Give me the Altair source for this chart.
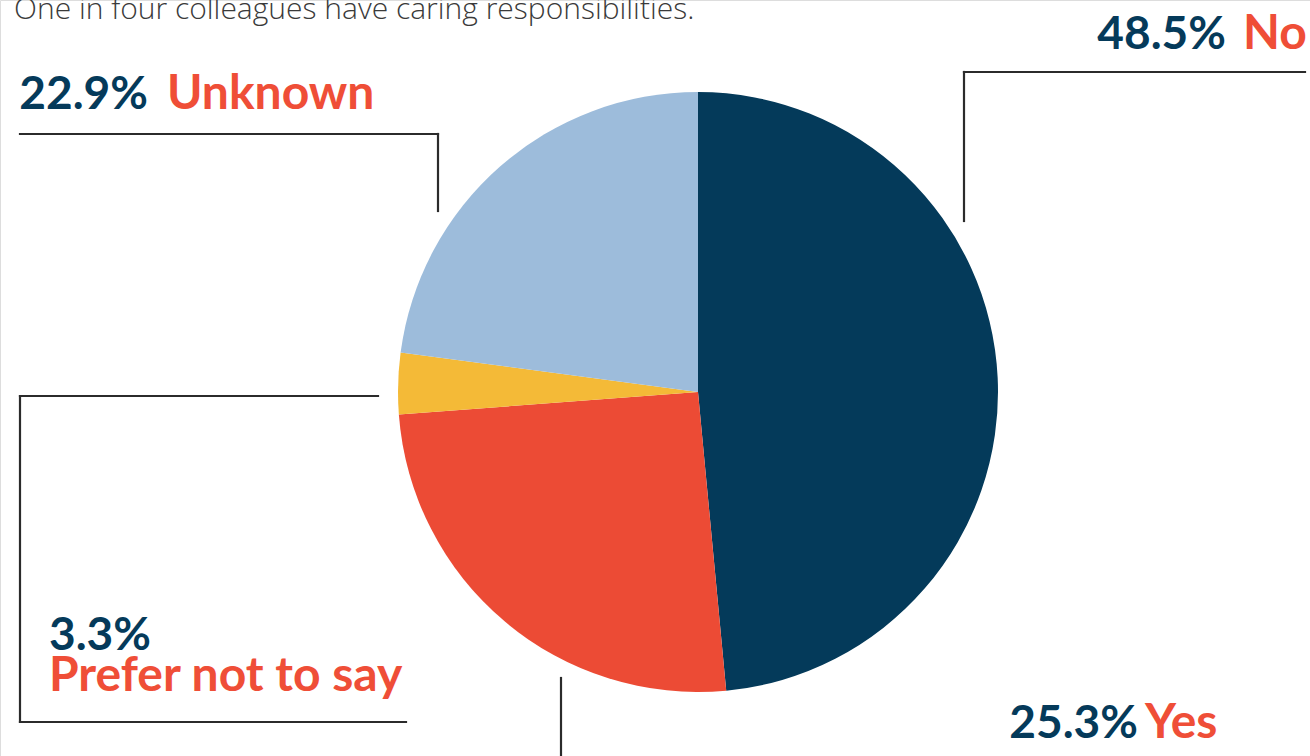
import altair as alt
import pandas as pd

# ---- data ----
categories = ["No", "Yes", "Prefer not to say", "Unknown"]
values = [48.5, 25.3, 3.3, 22.9]
colors = ["#043a5a", "#ec4b35", "#f4ba37", "#9dbcdb"]
title_text = "One in four colleagues have caring responsibilities."

df = pd.DataFrame({
    "category": categories,
    "value": values,
    "order": list(range(len(categories))),
    "pct": [f"{v}%" for v in values],
})

W, H = 1310, 756
CX, CY, R = 698, 392, 300
NAVY = "#053a5a"
RED = "#ef4e37"
LINE = "#2b2b2b"
FONT = "Lato"

pie = alt.Chart(df).mark_arc(radius=R, stroke=None).encode(
    theta=alt.Theta("value:Q", stack=True),
    order=alt.Order("order:Q", sort="ascending"),
    color=alt.Color("category:N", scale=alt.Scale(domain=categories, range=colors), legend=None),
    x=alt.value(CX),
    y=alt.value(CY),
)

def rule(x1, y1, x2, y2):
    return alt.Chart(df.head(1)).mark_rule(color=LINE, strokeWidth=2.2, strokeCap="square").encode(
        x=alt.value(x1), y=alt.value(y1), x2=alt.value(x2), y2=alt.value(y2)
    )

rules = [
    rule(964, 72, 1305, 72), rule(964, 72, 964, 221),
    rule(20, 134, 438, 134), rule(438, 134, 438, 211),
    rule(20, 396, 378, 396), rule(20, 396, 20, 722), rule(20, 722, 406, 722),
    rule(561, 678, 561, 760),
]

def label(cat, field, x, y, color, align="left", size=47):
    return alt.Chart(df).transform_filter(alt.datum.category == cat).mark_text(
        align=align, baseline="alphabetic", font=FONT, fontWeight="bold",
        fontSize=size, color=color
    ).encode(text=f"{field}:N", x=alt.value(x), y=alt.value(y))

PS, WS = 46, 48
labels = [
    label("No", "pct", 1226, 49, NAVY, "right", PS), label("No", "category", 1243, 49, RED, size=WS),
    label("Unknown", "pct", 148, 109, NAVY, "right", PS), label("Unknown", "category", 167, 109, RED, size=WS),
    label("Prefer not to say", "pct", 49, 650, NAVY, size=PS), label("Prefer not to say", "category", 49, 691, RED, size=WS),
    label("Yes", "pct", 1138, 738, NAVY, "right", PS), label("Yes", "category", 1145, 738, RED, size=WS),
]

title = alt.Chart(df.head(1)).mark_text(
    align="left", baseline="alphabetic", font="Open Sans", fontWeight=300,
    fontSize=30, color="#3a3a3a"
).encode(text=alt.value(title_text), x=alt.value(14), y=alt.value(19))

chart = alt.layer(pie, *rules, *labels, title).properties(
    width=W, height=H, padding=0, autosize=alt.AutoSizeParams(type="none")
).configure_view(stroke=None).configure(background="white")

chart.save("out.html", embed_options={"renderer": "svg", "actions": False})
